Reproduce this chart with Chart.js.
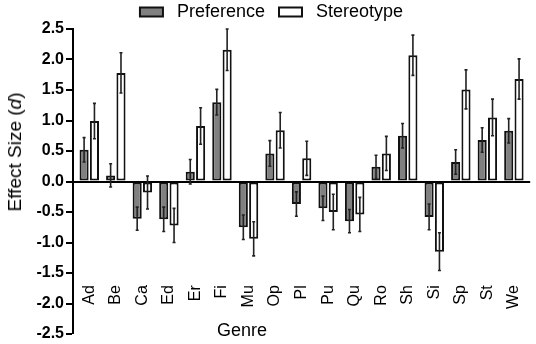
<!DOCTYPE html>
<html>
<head>
<meta charset="utf-8">
<script src="https://cdn.jsdelivr.net/npm/chart.js@4/dist/chart.umd.min.js"></script>
<style>
  html, body { margin: 0; padding: 0; background: #fff; }
  #caixa { position: relative; width: 536px; height: 344px; }
  .titulo { position: absolute; font-family: "Liberation Sans", Arial, sans-serif; color: #000; white-space: nowrap; }
  #tituloY { font-size: 19px; left: 15px; top: 152px; transform: translate(-50%, -50%) rotate(-90deg); }
  #tituloX { font-size: 18px; left: 242px; top: 330px; transform: translate(-50%, -50%); }
</style>
</head>
<body>
<div id="caixa">
  <canvas id="grafico" width="536" height="344"></canvas>
  <div class="titulo" id="tituloY">Effect Size (<i>d</i>)</div>
  <div class="titulo" id="tituloX">Genre</div>
</div>
<script>
const generos = ["Ad", "Be", "Ca", "Ed", "Er", "Fi", "Mu", "Op", "Pl", "Pu", "Qu", "Ro", "Sh", "Si", "Sp", "St", "We"];

const preferencia    = [0.52, 0.10, -0.61, -0.62, 0.16, 1.30, -0.75, 0.46, -0.37, -0.44, -0.65, 0.24, 0.75, -0.58, 0.32, 0.68, 0.83];
const preferenciaErr = [0.20, 0.19, 0.19, 0.20, 0.20, 0.21, 0.20, 0.21, 0.20, 0.20, 0.19, 0.19, 0.20, 0.21, 0.20, 0.20, 0.20];

const estereotipo    = [0.99, 1.78, -0.18, -0.72, 0.91, 2.16, -0.94, 0.84, 0.38, -0.50, -0.54, 0.46, 2.07, -1.15, 1.51, 1.05, 1.68];
const estereotipoErr = [0.29, 0.33, 0.27, 0.28, 0.30, 0.34, 0.28, 0.29, 0.28, 0.29, 0.28, 0.28, 0.33, 0.31, 0.32, 0.30, 0.33];

const fonte = "'Liberation Sans', Arial, sans-serif";

// pequena folga entre o eixo Y e a primeira/última categoria
const folgaEixo = {
  id: "folgaEixo",
  afterLayout(chart) {
    const area = chart.chartArea;
    const escalaX = chart.scales.x;
    if (!area || !escalaX) return;
    escalaX.left = area.left + 3;
    escalaX.right = area.right - 3;
    escalaX.configure();
  }
};

// barras de erro desenhadas por cima das barras
const barrasErro = {
  id: "barrasErro",
  afterDatasetsDraw(chart) {
    const ctx = chart.ctx;
    const escalaY = chart.scales.y;
    chart.data.datasets.forEach((ds, i) => {
      const meta = chart.getDatasetMeta(i);
      meta.data.forEach((barra, j) => {
        const v = ds.data[j];
        const e = ds.erros[j];
        const cima = escalaY.getPixelForValue(v + e);
        const baixo = escalaY.getPixelForValue(v - e);
        ctx.save();
        ctx.strokeStyle = "#222";
        ctx.lineWidth = 1.6;
        ctx.beginPath();
        ctx.moveTo(barra.x, cima);
        ctx.lineTo(barra.x, baixo);
        ctx.moveTo(barra.x - 1.5, cima);
        ctx.lineTo(barra.x + 1.5, cima);
        ctx.moveTo(barra.x - 1.5, baixo);
        ctx.lineTo(barra.x + 1.5, baixo);
        ctx.stroke();
        ctx.restore();
      });
    });
  }
};

new Chart(document.getElementById("grafico"), {
  type: "bar",
  data: {
    labels: generos,
    datasets: [
      {
        label: "Preference",
        data: preferencia,
        erros: preferenciaErr,
        backgroundColor: "#808080",
        borderColor: "#111",
        borderWidth: 2,
        borderSkipped: false,
        categoryPercentage: 0.78,
        barPercentage: 0.88
      },
      {
        label: "Stereotype",
        data: estereotipo,
        erros: estereotipoErr,
        backgroundColor: "#fff",
        borderColor: "#111",
        borderWidth: 2,
        borderSkipped: false,
        categoryPercentage: 0.78,
        barPercentage: 0.88
      }
    ]
  },
  options: {
    responsive: false,
    animation: false,
    layout: { padding: { top: -11, right: 3, bottom: 10, left: 10 } },
    plugins: {
      legend: {
        display: true,
        maxHeight: 40,
        labels: {
          color: "#000",
          font: { family: fonte, size: 18 },
          boxWidth: 23,
          boxHeight: 9,
          padding: 14,
          generateLabels: (chart) => {
            const itens = Chart.defaults.plugins.legend.labels.generateLabels(chart);
            itens.forEach((it) => { it.text = " " + it.text; });
            return itens;
          }
        }
      },
      tooltip: { enabled: false }
    },
    scales: {
      x: {
        type: "category",
        position: { y: -1.7 },
        grid: { display: false, drawTicks: false },
        border: { display: false },
        ticks: {
          color: "#000",
          font: { family: fonte, size: 16 },
          minRotation: 90,
          maxRotation: 90,
          padding: 0
        }
      },
      y: {
        min: -2.5,
        max: 2.5,
        afterFit: (escala) => {
          escala.width = 63;
          escala.paddingTop = 0;
          escala.paddingBottom = 0;
        },
        border: { display: true, color: "#000", width: 2 },
        grid: {
          color: (c) => c.tick && c.tick.value === 0 ? "#000" : "rgba(0,0,0,0)",
          lineWidth: (c) => c.tick && c.tick.value === 0 ? 2 : 0,
          tickColor: "#000",
          tickWidth: 2,
          tickLength: 7
        },
        ticks: {
          stepSize: 0.5,
          color: "#000",
          padding: 2,
          font: { family: fonte, size: 16, weight: "bold" },
          callback: (v) => Number(v).toFixed(1)
        }
      }
    }
  },
  plugins: [folgaEixo, barrasErro]
});
</script>
</body>
</html>
